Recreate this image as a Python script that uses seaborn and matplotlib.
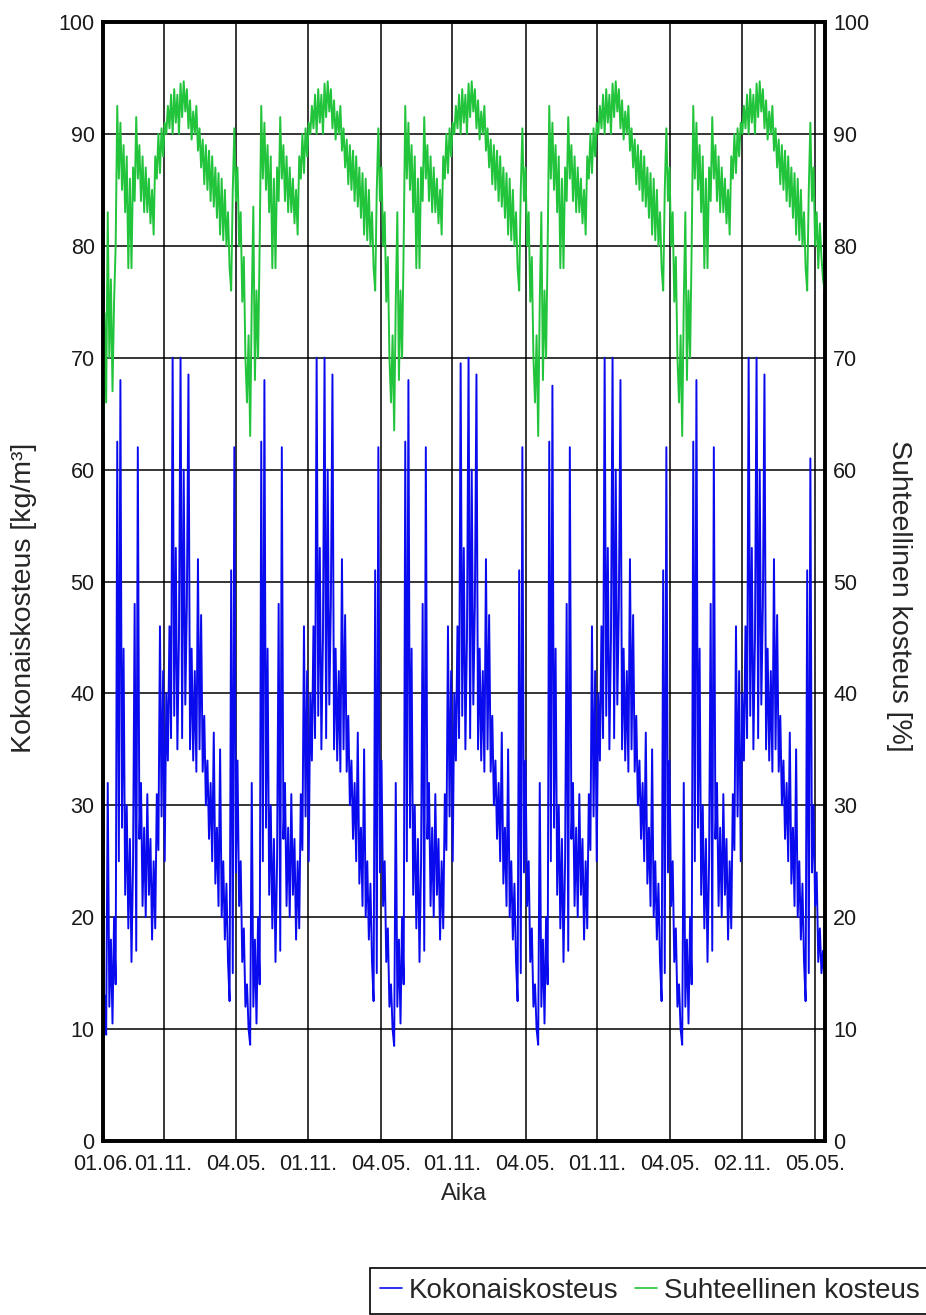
import matplotlib
matplotlib.use("Agg")
import matplotlib.pyplot as plt
import pandas as pd
import seaborn as sns

# Kokonaiskosteus [kg/m3], 4 vrk välein, vuosi kerrallaan (1.6. -> 31.5.)
kok_2001 = [8.5, 13, 9.5, 32, 12, 18, 10.5, 20, 14, 62.5,
            25, 68, 28, 44, 22, 30, 19, 27, 16, 25,
            48, 17, 62, 27, 32, 21, 28, 20, 31, 22,
            27, 18, 25, 19, 31, 26, 46, 29, 42, 25,
            40, 34, 46, 36, 70, 38, 53, 35, 45, 70,
            36, 60, 39, 48, 68.5, 35, 44, 34, 42, 33,
            52, 35, 47, 33, 38, 30, 34, 27, 32, 25,
            36.5, 23, 28, 21, 35, 20, 25, 18, 23, 16,
            12.5, 51, 15, 62, 24, 34, 21, 25, 16, 19,
            12]
kok_2002 = [14, 10, 8.6, 32, 12, 18, 10.5, 20, 14, 62.5,
            25, 68, 28, 44, 22, 30, 19, 27, 16, 25,
            48, 17, 62, 27, 32, 21, 28, 20, 31, 22,
            27, 18, 25, 19, 31, 26, 46, 29, 42, 25,
            40, 34, 46, 36, 70, 38, 53, 35, 45, 70,
            36, 60, 39, 48, 68.5, 35, 44, 34, 42, 33,
            52, 35, 47, 33, 38, 30, 34, 27, 32, 25,
            36.5, 23, 28, 21, 35, 20, 25, 18, 23, 16,
            12.5, 51, 15, 62, 24, 34, 21, 25, 16, 19,
            12]
kok_2003 = [14, 10, 8.5, 32, 12, 18, 10.5, 20, 14, 62.5,
            25, 68, 28, 44, 22, 30, 19, 27, 16, 25,
            48, 17, 62, 27, 32, 21, 28, 20, 31, 22,
            27, 18, 25, 19, 31, 26, 46, 29, 42, 25,
            40, 34, 46, 36, 69.5, 38, 53, 35, 45, 70,
            36, 60, 39, 48, 68.5, 35, 44, 34, 42, 33,
            52, 35, 47, 33, 38, 30, 34, 27, 32, 25,
            36.5, 23, 28, 21, 35, 20, 25, 18, 23, 16,
            12.5, 51, 15, 62, 24, 34, 21, 25, 16, 19,
            12]
kok_2004 = [14, 10, 8.6, 32, 12, 18, 10.5, 20, 14, 62.5,
            25, 67.5, 28, 44, 22, 30, 19, 27, 16, 25,
            48, 17, 62, 27, 32, 21, 28, 20, 31, 22,
            27, 18, 25, 19, 31, 26, 46, 29, 42, 25,
            40, 34, 46, 36, 70, 38, 53, 35, 45, 70,
            36, 60, 39, 48, 68, 35, 44, 34, 42, 33,
            52, 35, 47, 33, 38, 30, 34, 27, 32, 25,
            36.5, 23, 28, 21, 35, 20, 25, 18, 23, 16,
            12.5, 51, 15, 62, 24, 34, 21, 25, 16, 19,
            12]
kok_2005 = [14, 10, 8.6, 32, 12, 18, 10.5, 20, 14, 62.5,
            25, 68, 28, 44, 22, 30, 19, 27, 16, 25,
            48, 17, 62, 27, 32, 21, 28, 20, 31, 22,
            27, 18, 25, 19, 31, 26, 46, 29, 42, 25,
            40, 34, 46, 36, 70, 38, 53, 35, 45, 70,
            36, 60, 39, 48, 68.5, 35, 44, 34, 42, 33,
            52, 35, 47, 33, 38, 30, 34, 27, 32, 25,
            36.5, 23, 28, 21, 35, 20, 25, 18, 23, 16,
            12.5, 51, 15, 61, 24, 30, 21, 24, 16, 19,
            15, 17, 14]

# Suhteellinen kosteus [%]
rh_2001 = [62, 74, 66, 83, 70, 77, 67, 75, 80, 92.5,
           86, 91, 85, 89, 83, 88, 78, 86, 78, 87,
           84, 91.5, 86, 89, 84, 88, 83, 87, 83, 86,
           82, 85, 81, 88, 86, 90, 86.5, 90.5, 88, 91,
           90, 92.5, 90.5, 93.5, 90, 94, 91, 93.5, 90, 94.5,
           91.5, 94.7, 92, 94, 90.5, 93, 89.5, 92, 90, 92.5,
           88.5, 90.5, 87, 89.5, 85.5, 89, 85, 88.5, 84, 88,
           83.5, 87, 82.5, 86.5, 81, 86, 80.5, 85, 80, 83,
           78, 76, 85, 90.5, 84, 87, 80, 83, 75, 79,
           70]
rh_2002 = [66, 72, 63, 75, 83.5, 68, 76, 70, 80, 92.5,
           86, 91, 85, 89, 83, 88, 78, 86, 78, 87,
           84, 91.5, 86, 89, 84, 88, 83, 87, 83, 86,
           82, 85, 81, 88, 86, 90, 86.5, 90.5, 88, 91,
           90, 92.5, 90.5, 93.5, 90, 94, 91, 93.5, 90, 94.5,
           91.5, 94.7, 92, 94, 90.5, 93, 89.5, 92, 90, 92.5,
           88.5, 90.5, 87, 89.5, 85.5, 89, 85, 88.5, 84, 88,
           83.5, 87, 82.5, 86.5, 81, 86, 80.5, 85, 80, 83,
           78, 76, 85, 90.5, 84, 87, 80, 83, 75, 79,
           70]
rh_2003 = [66, 72, 63.5, 75, 83, 68, 76, 70, 80, 92.5,
           86, 91, 85, 89, 83, 88, 78, 86, 78, 87,
           84, 91.5, 86, 89, 84, 88, 83, 87, 83, 86,
           82, 85, 81, 88, 86, 90, 86.5, 90.5, 88, 91,
           90, 92.5, 90.5, 93.5, 90, 94, 91, 93.5, 90, 94.5,
           91.5, 94.7, 92, 94, 90.5, 93, 89.5, 92, 90, 92.5,
           88.5, 90.5, 87, 89.5, 85.5, 89, 85, 88.5, 84, 88,
           83.5, 87, 82.5, 86.5, 81, 86, 80.5, 85, 80, 83,
           78, 76, 85, 90.5, 84, 87, 80, 83, 75, 79,
           70]
rh_2004 = [66, 72, 63, 75, 83, 68, 76, 70, 80, 92.5,
           86, 91, 85, 89, 83, 88, 78, 86, 78, 87,
           84, 91.5, 86, 89, 84, 88, 83, 87, 83, 86,
           82, 85, 81, 88, 86, 90, 86.5, 90.5, 88, 91,
           90, 92.5, 90.5, 93.5, 90, 94, 91, 93.5, 90, 94.5,
           91.5, 94.7, 92, 94, 90.5, 93, 89.5, 92, 90, 92.5,
           88.5, 90.5, 87, 89.5, 85.5, 89, 85, 88.5, 84, 88,
           83.5, 87, 82.5, 86.5, 81, 86, 80.5, 85, 80, 83,
           78, 76, 85, 90.5, 84, 87, 80, 83, 75, 79,
           70]
rh_2005 = [66, 72, 63, 75, 83, 68, 76, 70, 80, 92.5,
           86, 91, 85, 89, 83, 88, 78, 86, 78, 87,
           84, 91.5, 86, 89, 84, 88, 83, 87, 83, 86,
           82, 85, 81, 88, 86, 90, 86.5, 90.5, 88, 91,
           90, 92.5, 90.5, 93.5, 90, 94, 91, 93.5, 90, 94.5,
           91.5, 94.7, 92, 94, 90.5, 93, 89.5, 92, 90, 92.5,
           88.5, 90.5, 87, 89.5, 85.5, 89, 85, 88.5, 84, 88,
           83.5, 87, 82.5, 86.5, 81, 86, 80.5, 85, 80, 83,
           78, 76, 85, 91, 84, 87, 80, 83, 78, 82,
           79, 77, 76]

tick_dates = ["2001-06-01", "2001-11-01", "2002-05-04", "2002-11-01", "2003-05-04",
              "2003-11-01", "2004-05-04", "2004-11-01", "2005-05-04", "2005-11-02",
              "2006-05-05"]
tick_labels = ["01.06.", "01.11.", "04.05.", "01.11.", "04.05.", "01.11.",
               "04.05.", "01.11.", "04.05.", "02.11.", "05.05."]

kokonais = kok_2001 + kok_2002 + kok_2003 + kok_2004 + kok_2005
suhteellinen = rh_2001 + rh_2002 + rh_2003 + rh_2004 + rh_2005
aika = pd.date_range("2001-06-01", periods=len(kokonais), freq="4D")
df = pd.DataFrame({"Aika": aika,
                   "Kokonaiskosteus": kokonais,
                   "Suhteellinen kosteus": suhteellinen})

BLUE = "#0a0aee"
GREEN = "#22c43c"

sns.set_theme(style="white")
plt.rcParams["font.family"] = ["Liberation Sans", "DejaVu Sans"]

W, H = 926, 1315
fig = plt.figure(figsize=(W / 100, H / 100), dpi=100)
ax = fig.add_axes([103 / W, 1 - 1141 / H, (825 - 103) / W, (1141 - 22) / H])
ax2 = ax.twinx()

sns.lineplot(data=df, x="Aika", y="Kokonaiskosteus", ax=ax, color=BLUE,
             lw=1.4, estimator=None, label="Kokonaiskosteus", legend=False)
sns.lineplot(data=df, x="Aika", y="Suhteellinen kosteus", ax=ax2, color=GREEN,
             lw=1.4, estimator=None, label="Suhteellinen kosteus", legend=False)

for a in (ax, ax2):
    a.set_ylim(0, 100)
    a.set_yticks(range(0, 101, 10))
    a.tick_params(axis="both", length=0, labelsize=15.5, colors="#1a1a1a")
    for s in a.spines.values():
        s.set_color("black")
        s.set_linewidth(2.6)
        s.set_zorder(5)

ax.set_xlim(pd.Timestamp("2001-06-01"), pd.Timestamp("2006-05-31"))
ax.set_xticks(pd.to_datetime(tick_dates))
ax.set_xticklabels(tick_labels)
ax.tick_params(axis="x", pad=9)
ax.tick_params(axis="y", pad=6)
ax2.tick_params(axis="y", pad=6)

ax.grid(True, color="black", lw=1.1)
ax2.grid(False)

ax.set_xlabel("Aika", fontsize=17, labelpad=6)
ax.set_ylabel("Kokonaiskosteus [kg/m³]", fontsize=20.5)
ax.yaxis.set_label_coords(-0.091, 0.485)
ax2.set_ylabel("Suhteellinen kosteus [%]", fontsize=20.5, rotation=270, va="bottom")
ax2.yaxis.set_label_coords(1.085, 0.487)

h1, l1 = ax.get_legend_handles_labels()
h2, l2 = ax2.get_legend_handles_labels()
leg = fig.legend(h1 + h2, l1 + l2, loc="lower right", bbox_to_anchor=(1.004, 0.001),
                 ncol=2, fontsize=20, frameon=True, fancybox=False, framealpha=1,
                 edgecolor="black", handlelength=0.8, handletextpad=0.25,
                 columnspacing=0.6, borderpad=0.35, borderaxespad=0)
leg.get_frame().set_linewidth(1.2)
for line in leg.get_lines():
    line.set_linewidth(1.2)

fig.savefig("out.png", dpi=100)
